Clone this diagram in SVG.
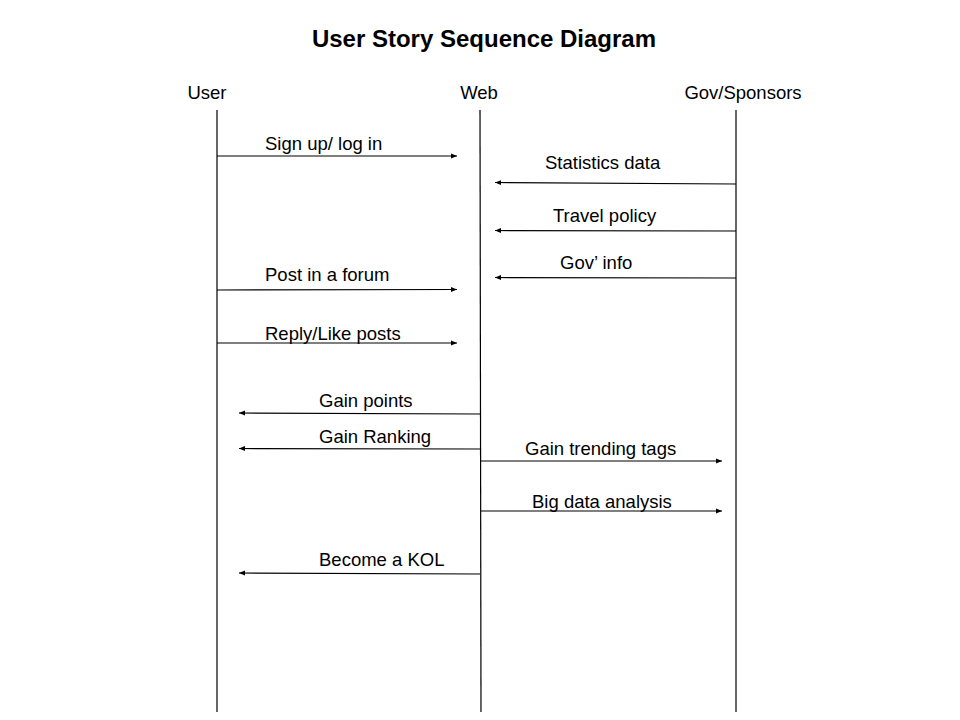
<svg xmlns="http://www.w3.org/2000/svg" width="960" height="720" viewBox="0 0 960 720">
  <style>
    .lbl { font-family: "Liberation Sans", Arial, sans-serif; font-size: 18.5px; fill: #000; }
    .title { font-family: "Liberation Sans", Arial, sans-serif; font-size: 24px; font-weight: bold; fill: #000; }
    .life { stroke: #000; stroke-width: 1.2; fill: none; }
    .msg { stroke: #000; stroke-width: 1.2; fill: none; marker-end: url(#arrow); }
  </style>
  <defs>
    <marker id="arrow" viewBox="0 0 10 10" refX="10" refY="5" markerWidth="8" markerHeight="6" markerUnits="userSpaceOnUse" orient="auto">
      <path d="M0,1 L10,5 L0,9 Z" fill="#000"/>
    </marker>
  </defs>
  <rect width="960" height="720" fill="#fff"/>

  <text class="title" x="484" y="47" text-anchor="middle">User Story Sequence Diagram</text>

  <g id="user">
    <text class="lbl" x="207" y="99" text-anchor="middle">User</text>
    <line class="life" x1="217" y1="110" x2="217" y2="712"/>
  </g>
  <g id="web">
    <text class="lbl" x="479" y="99" text-anchor="middle">Web</text>
    <line class="life" x1="480" y1="110" x2="481" y2="712"/>
  </g>
  <g id="gov">
    <text class="lbl" x="743" y="99" text-anchor="middle">Gov/Sponsors</text>
    <line class="life" x1="736" y1="110" x2="736" y2="712"/>
  </g>

  <g id="connectors">
    <line class="msg" x1="217" y1="156" x2="457" y2="156"/>
    <text class="lbl" x="265" y="150">Sign up/ log in</text>

    <line class="msg" x1="736" y1="184" x2="495" y2="182.5"/>
    <text class="lbl" x="545" y="169">Statistics data</text>

    <line class="msg" x1="736" y1="231" x2="495" y2="230.5"/>
    <text class="lbl" x="553" y="222">Travel policy</text>

    <line class="msg" x1="736" y1="278" x2="495" y2="277.5"/>
    <text class="lbl" x="560" y="269">Gov’ info</text>

    <line class="msg" x1="217" y1="290" x2="457" y2="289.5"/>
    <text class="lbl" x="265" y="281">Post in a forum</text>

    <line class="msg" x1="217" y1="343" x2="457" y2="343"/>
    <text class="lbl" x="265" y="340">Reply/Like posts</text>

    <line class="msg" x1="480" y1="414" x2="239" y2="413"/>
    <text class="lbl" x="319" y="407">Gain points</text>

    <line class="msg" x1="480" y1="449" x2="239" y2="448.5"/>
    <text class="lbl" x="319" y="443">Gain Ranking</text>

    <line class="msg" x1="481" y1="461" x2="722" y2="461"/>
    <text class="lbl" x="525" y="455">Gain trending tags</text>

    <line class="msg" x1="481" y1="511" x2="722" y2="511"/>
    <text class="lbl" x="532" y="508">Big data analysis</text>

    <line class="msg" x1="480" y1="574" x2="239" y2="573"/>
    <text class="lbl" x="319" y="566">Become a KOL</text>
  </g>
</svg>
